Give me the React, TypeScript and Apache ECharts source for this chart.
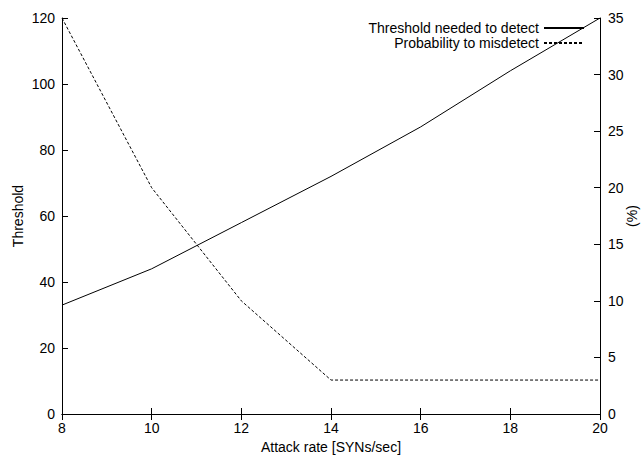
import React, { useEffect, useRef } from "react";
import * as echarts from "echarts";

const attackRates = [8, 10, 12, 14, 16, 18, 20];
const thresholdNeeded = [33, 44, 58, 72, 87, 104, 120];
const misdetectProb = [35, 20, 10, 3, 3, 3, 3];
const seriesNames = ["Threshold needed to detect", "Probability to misdetect"];

const FONT = "'Liberation Sans', Arial, Helvetica, sans-serif";
const FS = 14;

export default function App() {
  const ref = useRef<HTMLDivElement>(null);
  useEffect(() => {
    if (!ref.current) return;
    const chart = echarts.init(ref.current, undefined, { renderer: "svg" });
    const axisLine = { show: true, lineStyle: { color: "#000", width: 1 } };
    const axisTick = { show: true, inside: true, length: 6, lineStyle: { color: "#000", width: 1 } };
    const label = { color: "#000", fontSize: FS, fontFamily: FONT };
    const nameStyle = { color: "#000", fontSize: FS, fontFamily: FONT };
    chart.setOption({
      animation: false,
      backgroundColor: "#fff",
      textStyle: { fontFamily: FONT, color: "#000" },
      grid: { left: 62, right: 43, top: 18, bottom: 43, containLabel: false, outerBoundsMode: "none" },
      legend: {
        orient: "vertical",
        right: 58,
        top: 21,
        align: "right",
        itemWidth: 40,
        itemHeight: 12,
        itemGap: 1,
        itemStyle: { opacity: 0 },
        textStyle: { color: "#000", fontSize: FS, fontFamily: FONT, lineHeight: 14 },
        data: seriesNames,
        padding: 0,
      },
      xAxis: [
        {
          type: "value",
          min: 8,
          max: 20,
          interval: 2,
          name: "Attack rate [SYNs/sec]",
          nameLocation: "middle",
          nameGap: 26,
          nameMoveOverlap: false,
          nameTextStyle: nameStyle,
          axisLine,
          axisTick,
          axisLabel: { ...label, margin: 7 },
          splitLine: { show: false },
        },
        {
          type: "value",
          position: "top",
          min: 8,
          max: 20,
          interval: 2,
          axisLine,
          axisTick,
          axisLabel: { show: false },
          splitLine: { show: false },
        },
      ],
      yAxis: [
        {
          type: "value",
          min: 0,
          max: 120,
          interval: 20,
          name: "Threshold",
          nameLocation: "middle",
          nameGap: 37,
          nameRotate: 90,
          nameMoveOverlap: false,
          nameTextStyle: nameStyle,
          axisLine,
          axisTick,
          axisLabel: { ...label, margin: 7 },
          splitLine: { show: false },
        },
        {
          type: "value",
          position: "right",
          min: 0,
          max: 35,
          interval: 5,
          name: "(%)",
          nameLocation: "middle",
          nameGap: 25,
          nameRotate: 90,
          nameMoveOverlap: false,
          nameTextStyle: nameStyle,
          axisLine,
          axisTick,
          axisLabel: { ...label, margin: 8 },
          splitLine: { show: false },
        },
      ],
      series: [
        {
          name: seriesNames[0],
          type: "line",
          xAxisIndex: 0,
          yAxisIndex: 0,
          symbol: "none",
          data: attackRates.map((x, i) => [x, thresholdNeeded[i]]),
          lineStyle: { color: "#000", width: 1, type: "solid" },
          itemStyle: { color: "#000" },
        },
        {
          name: seriesNames[1],
          type: "line",
          xAxisIndex: 0,
          yAxisIndex: 1,
          symbol: "none",
          data: attackRates.map((x, i) => [x, misdetectProb[i]]),
          lineStyle: { color: "#000", width: 1, type: [3, 2] },
          itemStyle: { color: "#000" },
        },
      ],
    });
    return () => chart.dispose();
  }, []);
  return <div ref={ref} style={{ width: 643, height: 457, position: "absolute", left: 0, top: 0 }} />;
}
